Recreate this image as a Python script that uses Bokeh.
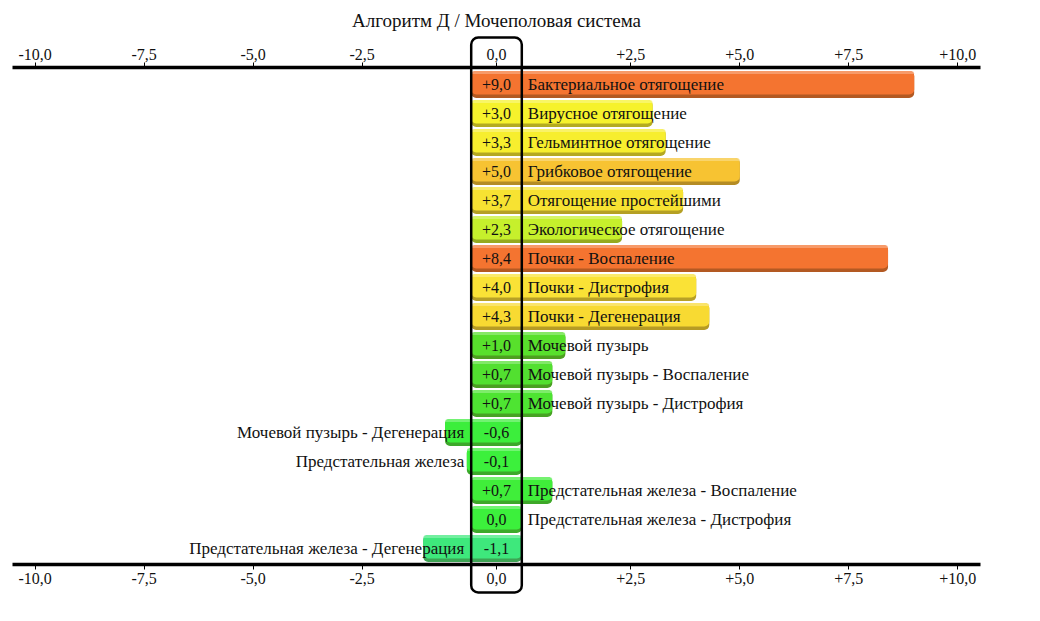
from bokeh.plotting import figure
from bokeh.models import Range1d, LinearAxis, FixedTicker, ColumnDataSource
from bokeh.core.properties import value
from bokeh.embed import file_html
from bokeh.resources import INLINE

# ---------------- data ----------------
title = "Алгоритм Д / Мочеполовая система"
categories = [
    "Бактериальное отягощение",
    "Вирусное отягощение",
    "Гельминтное отягощение",
    "Грибковое отягощение",
    "Отягощение простейшими",
    "Экологическое отягощение",
    "Почки - Воспаление",
    "Почки - Дистрофия",
    "Почки - Дегенерация",
    "Мочевой пузырь",
    "Мочевой пузырь - Воспаление",
    "Мочевой пузырь - Дистрофия",
    "Мочевой пузырь - Дегенерация",
    "Предстательная железа",
    "Предстательная железа - Воспаление",
    "Предстательная железа - Дистрофия",
    "Предстательная железа - Дегенерация",
]
values = [9.0, 3.0, 3.3, 5.0, 3.7, 2.3, 8.4, 4.0, 4.3, 1.0, 0.7, 0.7, -0.6, -0.1, 0.7, 0.0, -1.1]
tick_values = [-10.0, -7.5, -5.0, -2.5, 0.0, 2.5, 5.0, 7.5, 10.0]
bar_colors = ["#F47430", "#F6F22C", "#F7EE2E", "#F7C332", "#F7E232", "#C6F02C",
              "#F47430", "#FAE236", "#F8DA32", "#58E02C", "#52E030", "#4EE432",
              "#3CEE3C", "#3CF03C", "#40EE3A", "#3CF03C", "#3EE87C"]

# ---------------- layout constants ----------------
W, H = 1040, 621
PX = 43.6                 # pixels per unit on value scale
GAP = 50.6 / PX           # width of the zero column in units
CX = 496                  # pixel x of zero column centre
ROW = 29.0                # pixels per row
Y0 = 84.0                 # pixel y of first row centre
FONT = "Liberation Serif"


def py(pix):
    return (pix - Y0) / ROW


def shift(v):
    if v > 0:
        return v + GAP / 2
    if v < 0:
        return v - GAP / 2
    return 0.0


def fmt(v, sign=True):
    s = f"{abs(v):.1f}".replace(".", ",")
    if v > 0 and sign:
        return "+" + s
    if v < 0:
        return "-" + s
    return s


def mix(c, t, f):
    r, g, b = int(c[1:3], 16), int(c[3:5], 16), int(c[5:7], 16)
    r2, g2, b2 = t
    return "#%02x%02x%02x" % (int(r + (r2 - r) * f), int(g + (g2 - g) * f), int(b + (b2 - b) * f))


p = figure(width=W, height=H, output_backend="svg", toolbar_location=None,
           x_range=Range1d(-CX / PX, (W - CX) / PX),
           y_range=Range1d(py(H), py(0)),
           x_axis_location=None, y_axis_location=None,
           min_border=0, min_border_left=0, min_border_right=0,
           min_border_top=0, min_border_bottom=0)
p.outline_line_color = None
p.xgrid.visible = False
p.ygrid.visible = False
p.background_fill_color = "white"
p.border_fill_color = "white"

rows = list(range(len(values)))
left = [(-GAP / 2 if v >= 0 else -GAP / 2 + v) for v in values]
right = [(GAP / 2 + v if v >= 0 else GAP / 2) for v in values]
half = 13.5 / ROW
src = ColumnDataSource(dict(
    row=rows, left=left, right=right,
    top=[r - half for r in rows], bottom=[r + half for r in rows],
    mtop=[r - half for r in rows], mbottom=[r + half - 3.5 / ROW for r in rows],
    htop=[r - half for r in rows], hbottom=[r - half + 3 / ROW for r in rows],
    color=bar_colors,
    shadow=[mix(c, (60, 40, 10), 0.35) for c in bar_colors],
    light=[mix(c, (255, 255, 255), 0.35) for c in bar_colors],
    label=categories,
    lx=[(GAP / 2 + 6 / PX) if v >= 0 else (-GAP / 2 - 7 / PX) for v in values],
    align=["left" if v >= 0 else "right" for v in values],
    vlabel=[fmt(v) for v in values],
    vx=[0.0] * len(values),
))

p.quad(left="left", right="right", top="top", bottom="bottom", source=src,
       fill_color="shadow", line_color=None, border_radius=5)
p.quad(left="left", right="right", top="mtop", bottom="mbottom", source=src,
       fill_color="color", line_color=None, border_radius=5)
p.quad(left="left", right="right", top="htop", bottom="hbottom", source=src,
       fill_color="light", line_color=None, fill_alpha=0.8, border_radius=[5, 5, 0, 0])

p.text(x="lx", y="row", text="label", text_align="align", text_baseline="middle",
       text_font=value(FONT), text_font_size="17px", text_color="#111111", source=src)
p.text(x="vx", y="row", text="vlabel", text_align="center", text_baseline="middle",
       text_font=value(FONT), text_font_size="16px", text_color="#111111", source=src)

# zero column box
p.quad(left=[-GAP / 2], right=[GAP / 2], top=[py(37)], bottom=[py(592)],
       fill_color=None, line_color="black", line_width=2.5, border_radius=7)

# title centred on zero column
p.text(x=[0.0], y=[py(20)], text=[title], text_align="center", text_baseline="middle",
       text_font=value(FONT), text_font_size="19px", text_color="#111111")

tick_pos = [shift(t) for t in tick_values]
overrides = {tp: fmt(t) for tp, t in zip(tick_pos, tick_values)}

for loc, ypix in (("above", 67), ("below", 564)):
    ax = LinearAxis(fixed_location=py(ypix), ticker=FixedTicker(ticks=tick_pos),
                    major_label_overrides=overrides, bounds=((12 - CX) / PX, (980 - CX) / PX))
    ax.axis_line_width = 3.5
    ax.axis_line_color = "black"
    ax.major_tick_out = 5
    ax.major_tick_in = 0
    ax.major_tick_line_width = 1
    ax.minor_tick_out = 0
    ax.minor_tick_in = 0
    ax.major_label_standoff = 3
    ax.major_label_text_font = FONT
    ax.major_label_text_font_size = "16px"
    ax.major_label_text_color = "#111111"
    p.add_layout(ax, loc)

open("out.html", "w").write(file_html(p, INLINE))
